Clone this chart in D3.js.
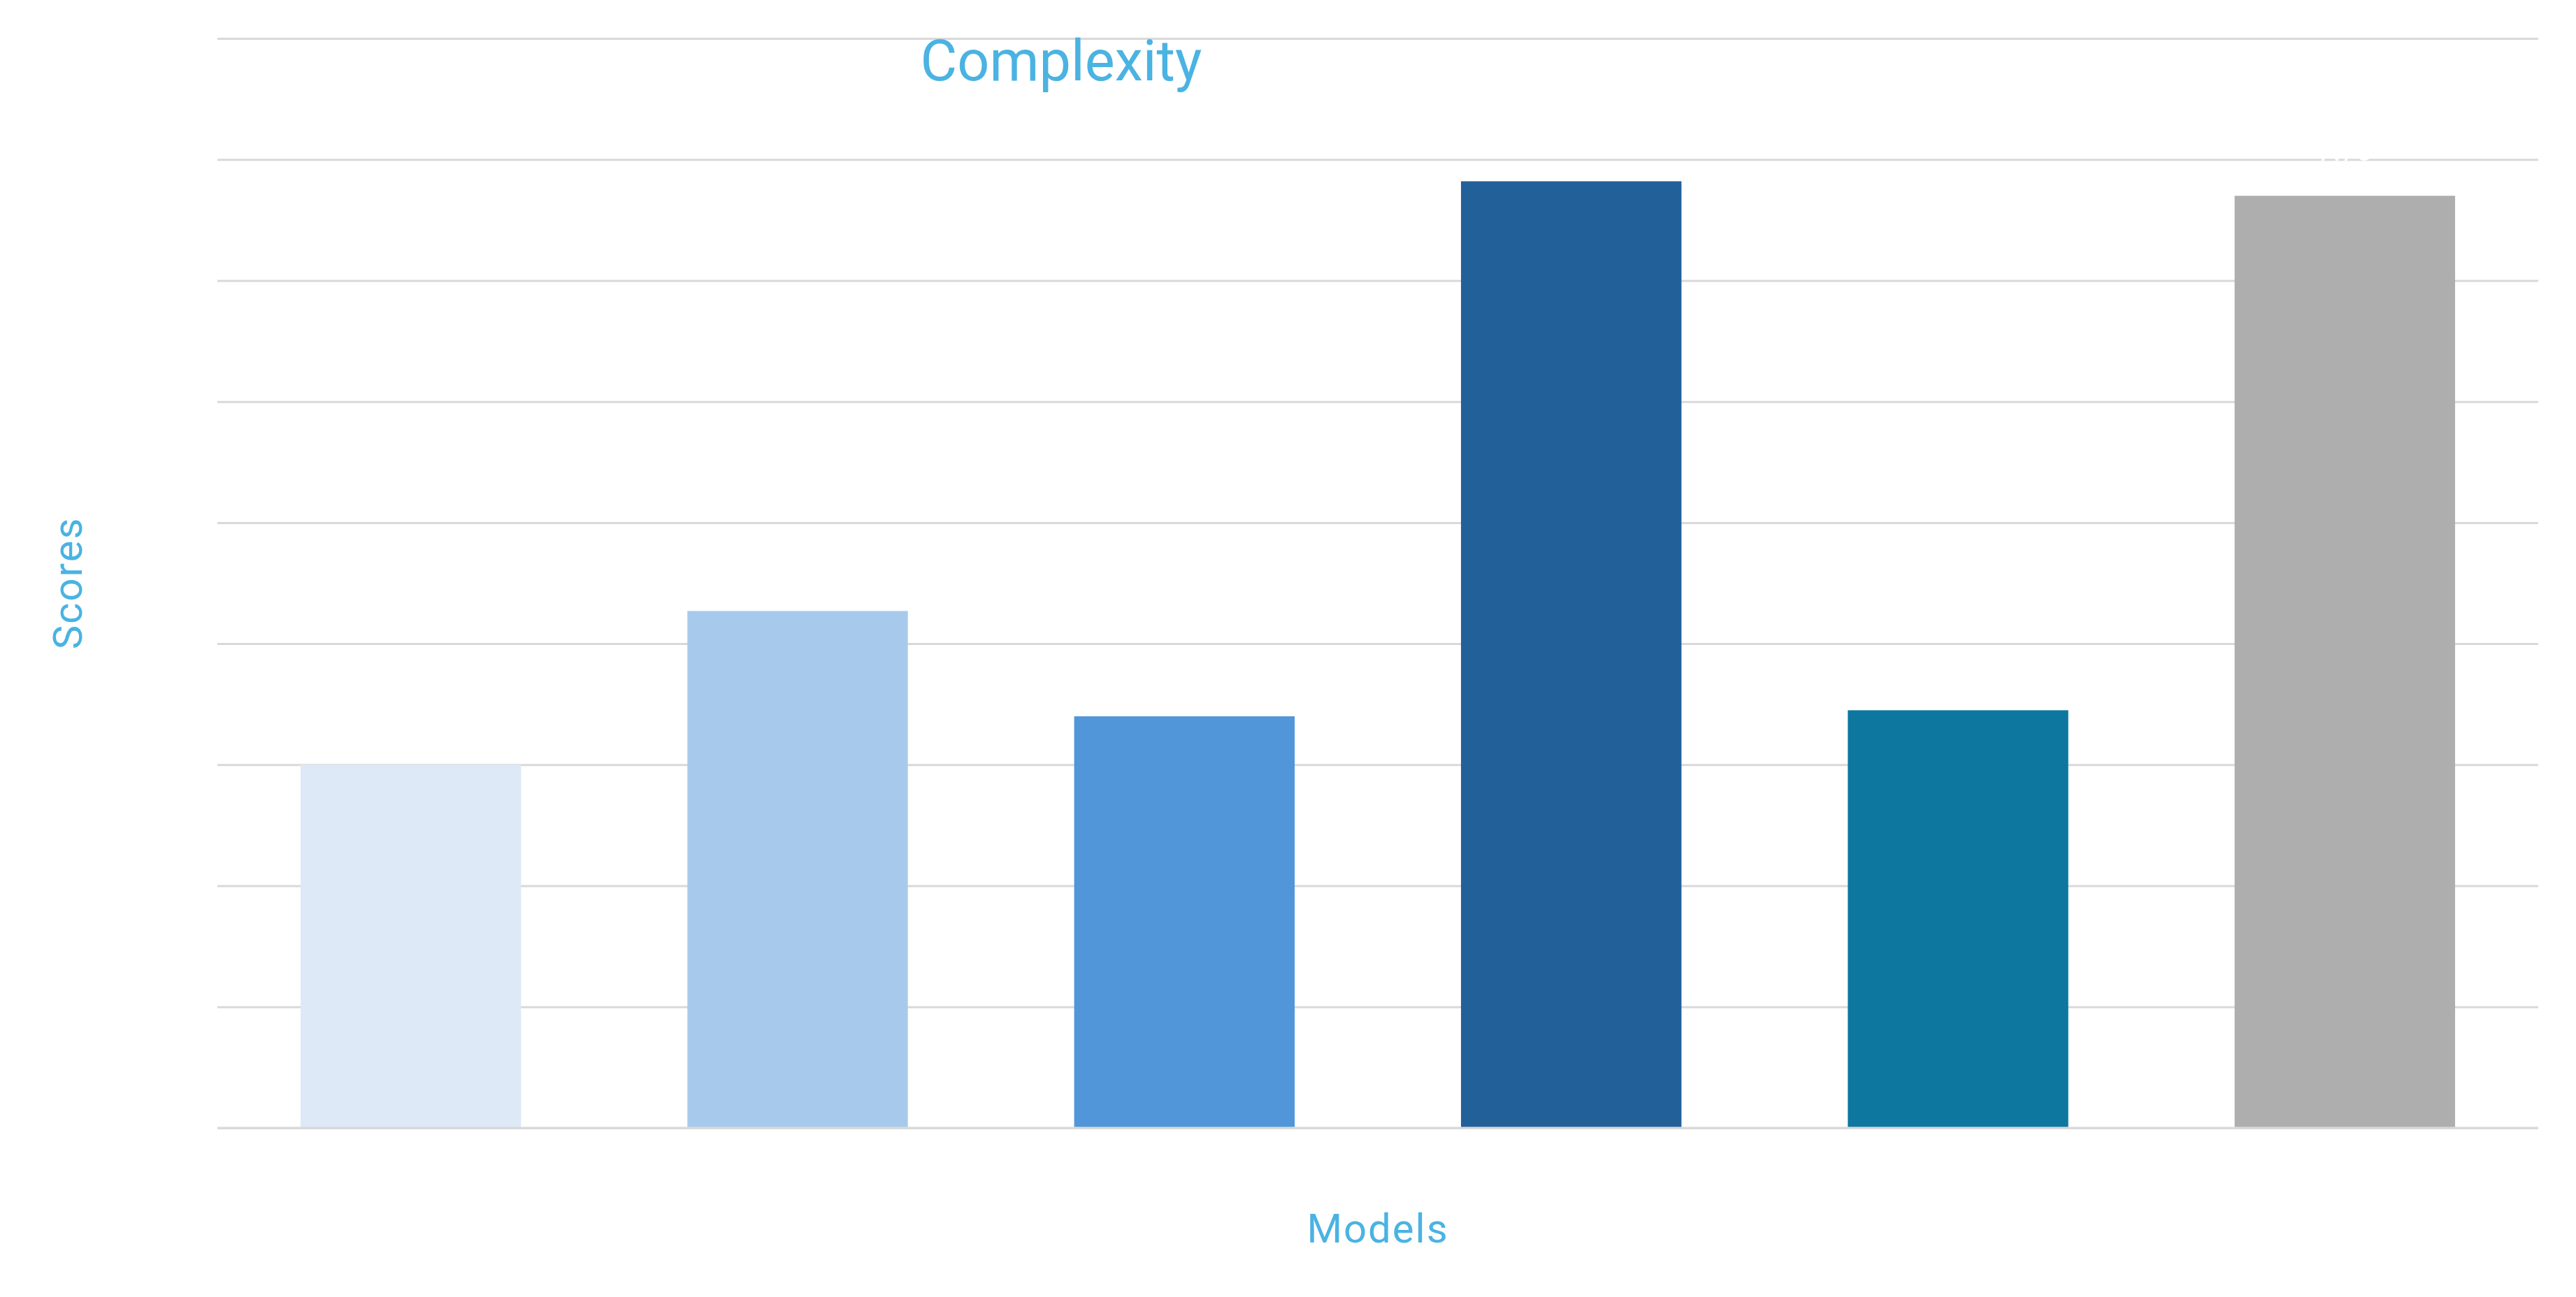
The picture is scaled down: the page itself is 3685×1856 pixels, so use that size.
<!DOCTYPE html>
<html>
<head>
<meta charset="utf-8">
<script src="https://cdn.jsdelivr.net/npm/d3@7"></script>
<style>
  body { margin: 0; background: #fff; }
  text { font-family: Roboto, "Noto Sans", sans-serif; }
</style>
</head>
<body>
<div class="chart"></div>
<script>
// values (tick labels are white in the original)
const models = ["Model 1", "Model 2", "Model 3", "Model 4", "Model 5", "Model 6"];
const scores = [3.0, 4.27, 3.4, 7.82, 3.45, 7.7];
const colors = ["#dde9f6", "#a7caec", "#5096d9", "#22609a", "#0d77a0", "#aeaeae"];
const yTicks = [0, 1, 2, 3, 4, 5, 6, 7, 8, 9];

const W = 3685, H = 1856;
const margin = { top: 55, right: 54, bottom: 242, left: 311 },
  width = W - margin.left - margin.right,
  height = H - margin.top - margin.bottom;

const svg = d3
  .select(".chart")
  .append("svg")
  .attr("width", W)
  .attr("height", H);

const g = svg
  .append("g")
  .attr("transform", "translate(" + margin.left + "," + margin.top + ")");

const x = d3.scaleBand().domain(models).range([0, width]).paddingInner(0.43).paddingOuter(0.215);
const y = d3.scaleLinear().domain([0, 9]).range([height, 0]);

// gridlines
const grid = g
  .append("g")
  .call(d3.axisLeft(y).tickValues(yTicks).tickSize(-width).tickFormat(""));
grid.select(".domain").remove();
grid.selectAll(".tick line").attr("stroke", "#d9d9d9").attr("stroke-width", 3);

// bars
g.selectAll("rect.bar")
  .data(scores)
  .enter()
  .append("rect")
  .attr("class", "bar")
  .attr("x", (d, i) => x(models[i]))
  .attr("y", (d) => y(d))
  .attr("width", x.bandwidth())
  .attr("height", (d) => y(0) - y(d))
  .attr("fill", (d, i) => colors[i]);

// baseline
g.append("line")
  .attr("x1", 0)
  .attr("x2", width)
  .attr("y1", y(0))
  .attr("y2", y(0))
  .attr("stroke", "#d9d9d9")
  .attr("stroke-width", 3);

// data labels (white in the original)
g.selectAll("text.label")
  .data(scores)
  .enter()
  .append("text")
  .attr("class", "label")
  .attr("x", (d, i) => x(models[i]) + x.bandwidth() / 2)
  .attr("y", (d) => y(d) - 50)
  .attr("text-anchor", "middle")
  .attr("font-size", 40)
  .attr("fill", "#ffffff")
  .text((d) => d.toFixed(2));

// category labels (white)
g.selectAll("text.cat")
  .data(models)
  .enter()
  .append("text")
  .attr("class", "cat")
  .attr("x", (d) => x(d) + x.bandwidth() / 2)
  .attr("y", height + 60)
  .attr("text-anchor", "middle")
  .attr("font-size", 40)
  .attr("fill", "#ffffff")
  .text((d) => d);

// title
svg.append("text")
  .attr("x", 1518)
  .attr("y", 115)
  .attr("text-anchor", "middle")
  .attr("font-size", 81)
  .attr("fill", "#4ab3e2")
  .text("Complexity");

// axis titles
svg.append("text")
  .attr("x", margin.left + width / 2)
  .attr("y", 1778)
  .attr("text-anchor", "middle")
  .attr("font-size", 58)
  .attr("letter-spacing", 2)
  .attr("fill", "#4ab3e2")
  .text("Models");

svg.append("text")
  .attr("transform", "translate(117," + (margin.top + height / 2) + ") rotate(-90)")
  .attr("text-anchor", "middle")
  .attr("font-size", 58)
  .attr("letter-spacing", 2)
  .attr("fill", "#4ab3e2")
  .text("Scores");
</script>
</body>
</html>
